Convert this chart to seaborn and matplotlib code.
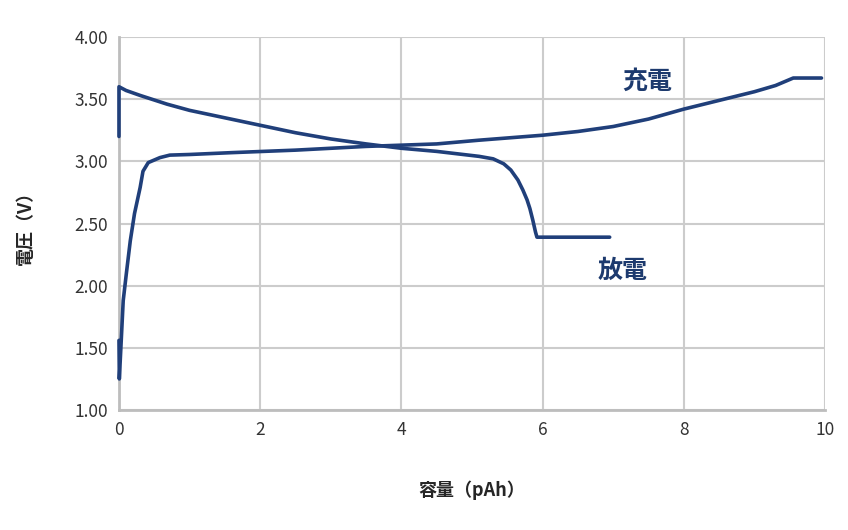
import matplotlib
matplotlib.use("Agg")
import matplotlib.pyplot as plt
import pandas as pd
import seaborn as sns

# ── Data ─────────────────────────────────────────────────────────────────────
charge_cap = [0.0, 0.005, 0.06, 0.105, 0.16, 0.22, 0.3, 0.34, 0.415, 0.58,
              0.72, 1.0, 1.6, 2.5, 3.5, 4.5, 5.1, 6.0, 6.5, 7.0, 7.5, 8.0,
              8.5, 9.0, 9.3, 9.55, 9.95]
charge_v = [1.56, 1.25, 1.88, 2.10, 2.36, 2.58, 2.79, 2.92, 2.99, 3.03,
            3.05, 3.055, 3.07, 3.09, 3.12, 3.14, 3.17, 3.21, 3.24, 3.28,
            3.34, 3.42, 3.49, 3.56, 3.61, 3.67, 3.67]

discharge_cap = [0.0, 0.0, 0.1, 0.3, 0.68, 1.0, 1.5, 2.0, 2.5, 3.0, 3.5,
                 4.0, 4.5, 4.8, 5.1, 5.3, 5.45, 5.55, 5.65, 5.72, 5.78,
                 5.82, 5.86, 5.9, 5.92, 6.95]
discharge_v = [3.20, 3.60, 3.57, 3.53, 3.46, 3.41, 3.35, 3.29, 3.23, 3.18,
               3.14, 3.105, 3.08, 3.06, 3.04, 3.02, 2.98, 2.93, 2.85, 2.77,
               2.69, 2.62, 2.53, 2.43, 2.39, 2.39]

x_ticks = [0, 2, 4, 6, 8, 10]
y_ticks = [1.0, 1.5, 2.0, 2.5, 3.0, 3.5, 4.0]

LINE = "#203f7a"
LABEL = "#1d3a6e"

sns.set_style("white")
plt.rcParams["font.family"] = ["Noto Sans CJK JP", "DejaVu Sans"]

fig = plt.figure(figsize=(8.48, 5.30), dpi=100)
ax = fig.add_axes([0.1403, 0.2264, 0.8326, 0.7038])

charge = pd.DataFrame({"cap": charge_cap, "v": charge_v})
discharge = pd.DataFrame({"cap": discharge_cap, "v": discharge_v})
for df in (charge, discharge):
    # estimator=None keeps repeated x values (vertical step at x=0)
    sns.lineplot(data=df, x="cap", y="v", sort=False, estimator=None,
                 color=LINE, lw=2.6, ax=ax, clip_on=False, zorder=5)

ax.set_xlim(0, 10)
ax.set_ylim(1.0, 4.0)
ax.set_xticks(x_ticks)
ax.set_yticks(y_ticks)
ax.set_yticklabels([f"{t:.2f}" for t in y_ticks])
ax.tick_params(length=0, labelsize=12.5, colors="#333333", pad=8)
ax.grid(True, color="#cccccc", lw=1.5)
ax.set_axisbelow(True)
for side in ["top", "right"]:
    ax.spines[side].set_visible(False)
for side in ["left", "bottom"]:
    ax.spines[side].set_color("#bdbdbd")
    ax.spines[side].set_linewidth(2)
    ax.spines[side].set_zorder(1)

ax.set_xlabel("容量（pAh）", fontsize=13, fontweight="bold", labelpad=30)
ax.set_ylabel("電圧（V）", fontsize=13, fontweight="bold", labelpad=28)

ax.text(7.49, 3.64, "充電", fontsize=18, fontweight="bold", color=LABEL,
        ha="center", va="center")
ax.text(7.14, 2.12, "放電", fontsize=18, fontweight="bold", color=LABEL,
        ha="center", va="center")

fig.savefig("out.png", dpi=100)
